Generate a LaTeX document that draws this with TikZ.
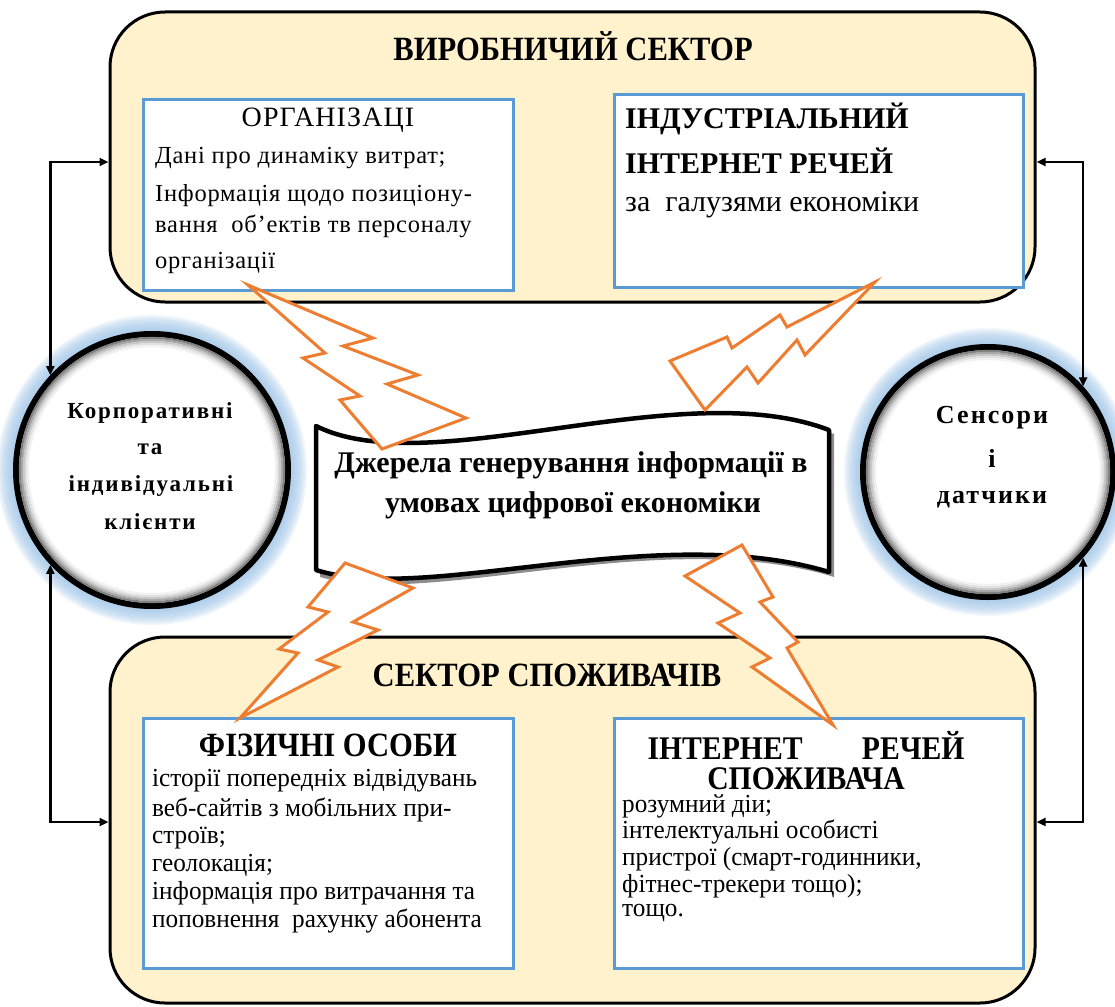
\documentclass[tikz,border=0pt]{standalone}
\usepackage{fontspec}
\setmainfont{Liberation Serif}
\newfontfamily\condf[FakeStretch=0.9]{Liberation Serif}
\newfontfamily\bodycf[FakeStretch=0.97]{Liberation Serif}
\newfontfamily\spacedf[LetterSpace=8]{Liberation Serif}
\newfontfamily\widef[LetterSpace=3]{Liberation Serif}
\newfontfamily\headwf[LetterSpace=4]{Liberation Serif}
\usetikzlibrary{arrows.meta}
\definecolor{secfill}{HTML}{FFF2CC}
\definecolor{boxblue}{HTML}{5B9BD5}
\definecolor{boltc}{HTML}{ED7D31}
\definecolor{glowc}{HTML}{9DC3E6}
\begin{document}
\begin{tikzpicture}[x=1pt,y=-1pt,
  sector/.style={draw=black, line width=3pt, fill=secfill, rounded corners=55pt, inner sep=0pt},
  infobox/.style={draw=boxblue, line width=3pt, fill=white, inner sep=0pt},
  circnode/.style={circle, draw=black, line width=6pt, fill=white, inner sep=0pt},
  boltshape/.style={draw=boltc, line width=3pt, fill=white, line join=miter, miter limit=12},
  link/.style={line width=2.5pt, {Triangle[length=9pt,width=8pt]}-{Triangle[length=9pt,width=8pt]}},
  sectitle/.style={inner sep=0pt, font=\condf\bfseries\fontsize{34}{36}\selectfont},
  bodyw/.style={inner sep=0pt, anchor=west, font=\widef\fontsize{24.5}{27}\selectfont},
  bodyc/.style={inner sep=0pt, anchor=west, font=\bodycf\fontsize{26}{27}\selectfont},
  headb/.style={inner sep=0pt, anchor=west, font=\bfseries\fontsize{30}{32}\selectfont},
  headc/.style={inner sep=0pt, font=\condf\bfseries\fontsize{34}{36}\selectfont},
  circtxt/.style={inner sep=0pt, font=\spacedf\bfseries\fontsize{23}{25}\selectfont},
  sentxt/.style={inner sep=0pt, font=\spacedf\bfseries\fontsize{26}{28}\selectfont},
  bantxt/.style={inner sep=0pt, font=\bfseries\fontsize{30}{32}\selectfont}
]
\useasboundingbox (0,0) rectangle (1115,1006);

% sectors
\node[sector, minimum width=925pt, minimum height=290pt] (top) at (572.5,157) {};
\node[sector, minimum width=925pt, minimum height=366pt] (bot) at (572.5,820) {};

% info boxes
\node[infobox, minimum width=370pt, minimum height=190pt] (org) at (328,195) {};
\node[infobox, minimum width=409pt, minimum height=192pt] (iiot) at (818.5,191) {};
\node[infobox, minimum width=370pt, minimum height=250pt] (phys) at (328,843) {};
\node[infobox, minimum width=409pt, minimum height=250pt] (ciot) at (818.5,843) {};

% glows
\foreach \k in {1,...,16}{
  \draw[glowc, opacity=0.11, line width=2.4*\k pt] (152,470) circle (136pt);
  \draw[glowc, opacity=0.11, line width=2.4*\k pt] (988,472) circle (125pt);
}
\node[circnode, minimum size=272pt] (lcirc) at (152,470) {};
\node[circnode, minimum size=250pt] (rcirc) at (988,472) {};
\foreach \d/\g in {4/50,6/35,8/22,10/12,12/5}{
  \draw[black!\g, line width=2.2pt] (lcirc.center) circle (136pt-\d pt);
  \draw[black!\g, line width=2.2pt] (rcirc.center) circle (125pt-\d pt);
}

% banner
\fill[black!45] (320,432) .. controls (430,489) and (680,379) .. (834,434)
  -- (834,577) .. controls (660,524) and (430,609) .. (320,577) -- cycle;
\draw[line width=4.5pt, fill=white, line join=round]
  (316,426) .. controls (430,483) and (680,373) .. (829,430)
  -- (829,572) .. controls (656,520) and (426,605) .. (316,570) -- cycle;
\node[bantxt] (src1) at (571,465) {Джерела генерування інформації в};
\node[bantxt] (src2) at (573,505) {умовах цифрової економіки};

% bolts
\draw[boltshape] (248,285) -- (373,338) -- (343,346) -- (418,375) -- (387,384) -- (466,418)
  -- (382,449) -- (340,400) -- (360,396) -- (303,358) -- (325,353) -- cycle;
\draw[boltshape] (875,282) -- (787,327) -- (780,315) -- (732,348) -- (727,337) -- (670,361)
  -- (705,410) -- (747,367) -- (758,383) -- (797,340) -- (805,355) -- cycle;
\draw[boltshape] (345,563) -- (308,607) -- (328,612) -- (279,649) -- (298,653) -- (240,718)
  -- (338,667) -- (318,660) -- (378,630) -- (353,622) -- (413,588) -- cycle;
\draw[boltshape] (742,545) -- (685,576) -- (740,613) -- (718,623) -- (770,658) -- (752,667)
  -- (833,725) -- (787,648) -- (798,642) -- (760,602) -- (773,597) -- cycle;

% connectors
\draw[link] ([yshift=-5pt]top.west) -| (lcirc.137);
\draw[link] ([yshift=-5pt]top.east) -| (rcirc.42);
\draw[link] ([yshift=-2pt]bot.west) -| (lcirc.223);
\draw[link] ([yshift=-2pt]bot.east) -| (rcirc.318);

% sector titles
\node[sectitle] (toptitle) at (573,46) {ВИРОБНИЧИЙ СЕКТОР};
\node[sectitle] (bottitle) at (547,675) {СЕКТОР СПОЖИВАЧІВ};

% organisations box
\node[inner sep=0pt, font=\headwf\fontsize{28}{30}\selectfont] (orgh) at (328,120) {ОРГАНІЗАЦІ};
\node[bodyw] (o1) at (155,158) {Дані про динаміку витрат;};
\node[bodyw] (o2) at (155,196) {Інформація щодо позиціону-};
\node[bodyw] (o3) at (155,226) {вання\ \ об’ектів тв персоналу};
\node[bodyw] (o4) at (155,263) {організації};

% industrial IoT box
\node[headb] (i1) at (625,119) {ІНДУСТРІАЛЬНИЙ};
\node[headb] (i2) at (625,161) {ІНТЕРНЕТ РЕЧЕЙ};
\node[inner sep=0pt, anchor=west, font=\fontsize{30}{32}\selectfont] (i3) at (625,205) {за\ \ галузями економіки};

% physical persons box
\node[headc] (ph) at (328,745) {ФІЗИЧНІ ОСОБИ};
\node[bodyc] (p1) at (152,781) {історії попередніх відвідувань};
\node[bodyc] (p2) at (152,810) {веб-сайтів з мобільних при-};
\node[bodyc] (p3) at (152,838) {строїв;};
\node[bodyc] (p4) at (152,865) {геолокація;};
\node[bodyc] (p5) at (152,893) {інформація про витрачання та};
\node[bodyc] (p6) at (152,921) {поповнення\ \ рахунку абонента};

% consumer IoT box
\node[headc, align=center, anchor=north, font=\condf\bfseries\fontsize{33}{31}\selectfont] (c1) at (806,731)
  {\hbox to 317pt{ІНТЕРНЕТ\hfill РЕЧЕЙ}\\[-1pt] СПОЖИВАЧА};
\node[bodyc] (c3) at (622,806) {розумний діи;};
\node[bodyc] (c4) at (622,832) {інтелектуальні особисті};
\node[bodyc] (c5) at (622,859) {пристрої (смарт-годинники,};
\node[bodyc] (c6) at (622,886) {фітнес-трекери тощо);};
\node[bodyc] (c7) at (622,913) {тощо.};

% circle texts
\node[circtxt] (k1) at (150,413) {Корпоративні};
\node[circtxt] (k2) at (150,449) {та};
\node[circtxt] (k3) at (151,486) {індивідуальні};
\node[circtxt] (k4) at (150,522) {клієнти};
\node[sentxt] (s1) at (992,418) {Сенсори};
\node[sentxt] (s2) at (992,458) {і};
\node[sentxt] (s3) at (992,500) {датчики};
\end{tikzpicture}
\end{document}
